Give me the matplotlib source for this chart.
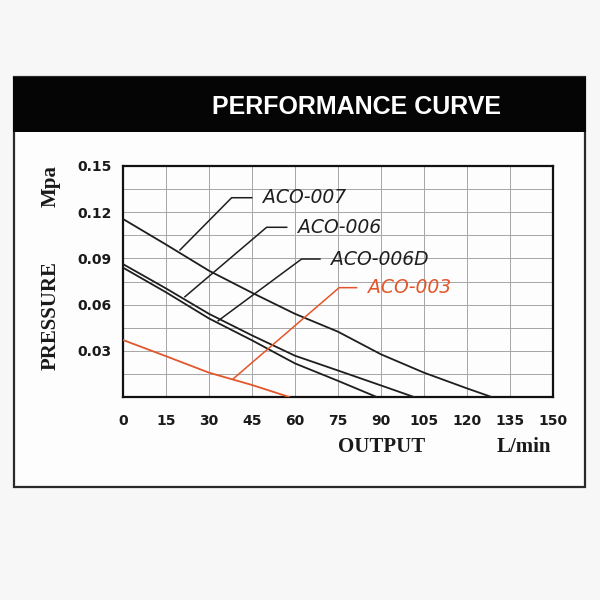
import numpy as np
import matplotlib.pyplot as plt
from matplotlib.patches import Rectangle

# values
x_007 = [0, 15, 30, 45, 60, 75, 90, 105, 120, 128.6]
p_007 = [0.1156, 0.099, 0.082, 0.0677, 0.054, 0.0424, 0.0277, 0.0158, 0.0056, 0.0]

x_006 = [0, 15, 30, 45, 60, 75, 90, 101.5]
p_006 = [0.0863, 0.0705, 0.054, 0.040, 0.0268, 0.0172, 0.0075, 0.0]

x_006d = [0, 15, 30, 45, 60, 75, 88.5]
p_006d = [0.084, 0.068, 0.051, 0.0368, 0.0218, 0.0105, 0.0]

x_003 = [0, 15, 30, 45, 58]
p_003 = [0.037, 0.0265, 0.0158, 0.0078, 0.0]

x_ticks = [0, 15, 30, 45, 60, 75, 90, 105, 120, 135, 150]
y_ticks = [0.03, 0.06, 0.09, 0.12, 0.15]

# label name, point on curve, elbow, end of horizontal, colour
labels = [
    ("ACO-007", (19.9, 0.0955), (37.9, 0.1294), 44.9, "#1e1e1e"),
    ("ACO-006", (21.6, 0.0651), (50.1, 0.1102), 57.1, "#1e1e1e"),
    ("ACO-006D", (33.2, 0.0495), (62.3, 0.0896), 68.7, "#1e1e1e"),
    ("ACO-003", (38.5, 0.0119), (75.4, 0.0710), 81.5, "#e2562a"),
]

W = H = 600
fig = plt.figure(figsize=(6, 6), dpi=100, facecolor="#f7f7f7")

def fx(px):
    return px / W

def fy(py):
    return 1 - py / H

# card with black header
fig.patches.append(Rectangle((fx(14), fy(487)), fx(585 - 14), (487 - 77) / H,
                             transform=fig.transFigure, facecolor="#fdfdfd",
                             edgecolor="#2a2a2a", linewidth=1.6, zorder=0))
fig.patches.append(Rectangle((fx(13), fy(132)), fx(586 - 13), (132 - 77) / H,
                             transform=fig.transFigure, facecolor="#050505",
                             edgecolor="none", zorder=1))
fig.text(fx(357), fy(107), "PERFORMANCE CURVE", color="white", fontsize=18,
         fontweight="bold", family=["Liberation Sans", "DejaVu Sans"],
         ha="center", va="center", zorder=3)

ax = fig.add_axes([fx(123), fy(397), fx(553 - 123), (397 - 166) / H])
ax.set_zorder(2)
ax.set_facecolor("#fdfdfd")

ax.plot(x_007, p_007, color="#1e1e1e", lw=1.3, zorder=3)
ax.plot(x_006, p_006, color="#1e1e1e", lw=1.3, zorder=3)
ax.plot(x_006d, p_006d, color="#1e1e1e", lw=1.3, zorder=3)
ax.plot(x_003, p_003, color="#e2562a", lw=1.3, zorder=3)

for name, pt, elbow, xend, col in labels:
    ax.plot([pt[0], elbow[0], xend], [pt[1], elbow[1], elbow[1]],
            color=col, lw=1.1, zorder=3)
    ax.text(xend + 4, elbow[1], name, color=col, fontsize=13.5,
            style="italic", ha="left", va="center", zorder=4)

ax.set_xlim(0, 150)
ax.set_ylim(0, 0.15)
ax.set_xticks(np.arange(0, 151, 15))
ax.set_xticklabels([str(v) for v in x_ticks])
ax.set_yticks(np.arange(0, 0.1501, 0.015))
ylab = []
for v in np.arange(0, 0.1501, 0.015):
    lab = ""
    for t in y_ticks:
        if abs(v - t) < 1e-6:
            lab = "%.2f" % t
    ylab.append(lab)
ax.set_yticklabels(ylab)
ax.grid(True, color="#a6a6a6", lw=0.7)
ax.set_axisbelow(True)
ax.tick_params(length=0, labelsize=10, colors="#1a1a1a")
ax.tick_params(axis="x", pad=12)
ax.tick_params(axis="y", pad=8)
for lab in ax.get_xticklabels() + ax.get_yticklabels():
    lab.set_fontweight("bold")
for s in ax.spines.values():
    s.set_linewidth(1.6)
    s.set_color("#111111")

serif = ["Liberation Serif", "DejaVu Serif"]
fig.text(fx(51), fy(316), "PRESSURE", rotation=90, fontsize=15, fontweight="bold",
         family=serif, ha="center", va="center", color="#1a1a1a", zorder=3)
fig.text(fx(51), fy(186), "Mpa", rotation=90, fontsize=15, fontweight="bold",
         family=serif, ha="center", va="center", color="#1a1a1a", zorder=3)
fig.text(fx(382), fy(447), "OUTPUT", fontsize=15, fontweight="bold",
         family=serif, ha="center", va="center", color="#1a1a1a", zorder=3)
fig.text(fx(524), fy(447), "L/min", fontsize=15, fontweight="bold",
         family=serif, ha="center", va="center", color="#1a1a1a", zorder=3)

fig.savefig("out.png", dpi=100, facecolor=fig.get_facecolor())
